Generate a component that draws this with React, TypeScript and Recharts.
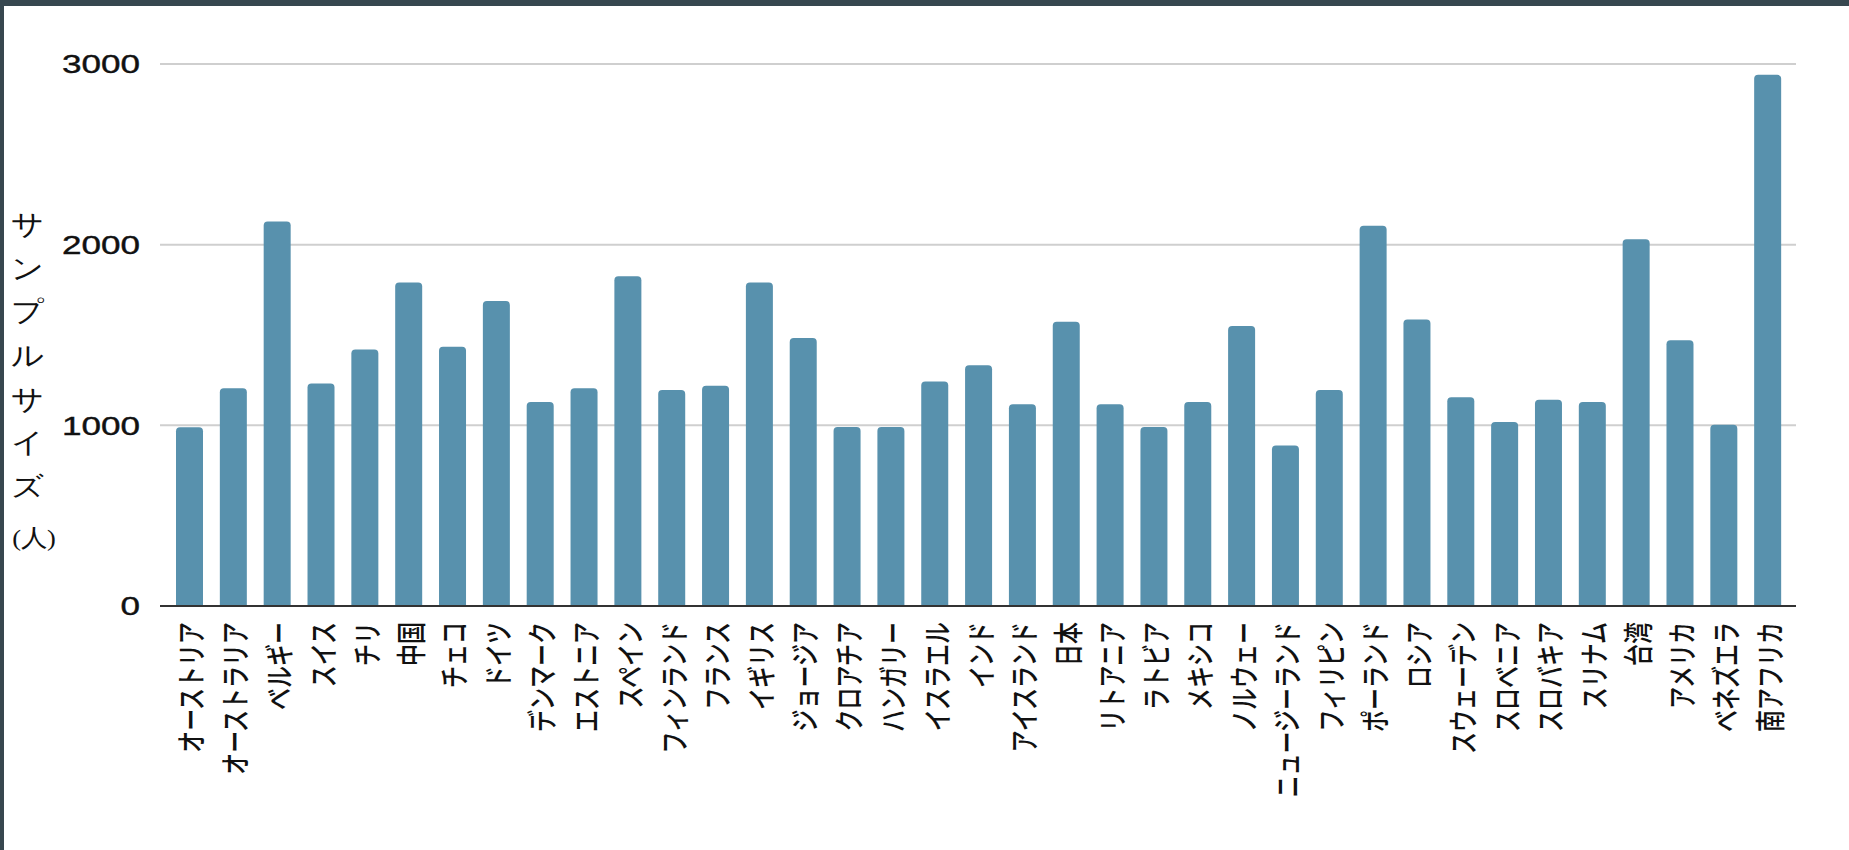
import { BarChart, Bar, XAxis, YAxis, CartesianGrid } from 'recharts';

// 国・地域ごとのサンプルサイズ（人）
const countries = [
    'オーストリア', 'オーストラリア', 'ベルギー', 'スイス', 'チリ', '中国', 'チェコ', 'ドイツ',
    'デンマーク', 'エストニア', 'スペイン', 'フィンランド', 'フランス', 'イギリス', 'ジョージア',
    'クロアチア', 'ハンガリー', 'イスラエル', 'インド', 'アイスランド', '日本', 'リトアニア',
    'ラトビア', 'メキシコ', 'ノルウェー', 'ニュージーランド', 'フィリピン', 'ポーランド', 'ロシア',
    'スウェーデン', 'スロベニア', 'スロバキア', 'スリナム', '台湾', 'アメリカ', 'ベネズエラ', '南アフリカ',
];

const sampleSizes = [
    990, 1205, 2128, 1231, 1420, 1790, 1435, 1688,
    1129, 1205, 1825, 1195, 1219, 1790, 1483,
    991, 991, 1243, 1333, 1117, 1574, 1117,
    991, 1129, 1550, 889, 1195, 2105, 1586,
    1156, 1018, 1141, 1129, 2030, 1471, 1003, 2940,
];

const yTicks = [0, 1000, 2000, 3000];

const titleChars = ['サ', 'ン', 'プ', 'ル', 'サ', 'イ', 'ズ'];
const titleUnit = '(人)';

const BAR_COLOR = '#5891ad';
const STRETCH = 1.35;

const data = countries.map((name, i) => ({ name, value: sampleSizes[i] }));

function YTick({ x, y, payload }: any) {
    return (
        <text
            transform={`translate(${x},${y}) scale(${STRETCH},1)`}
            textAnchor="end"
            dy="0.36em"
            fontSize={26}
            fontFamily="'Liberation Sans', Arial, sans-serif"
            stroke="#111"
            strokeWidth={0.4}
            fill="#111"
        >
            {payload.value}
        </text>
    );
}

function XTick({ x, y, payload }: any) {
    return (
        <text
            transform={`translate(${x},${y}) scale(${STRETCH},1) rotate(-90)`}
            textAnchor="end"
            dominantBaseline="central"
            fontSize={22}
            fontWeight={500}
            fontFamily="'Noto Sans CJK JP', sans-serif"
            fill="#111"
        >
            {payload.value}
        </text>
    );
}

// 縦書きの軸タイトル
function YTitle({ viewBox }: any) {
    const cx = viewBox.x + 28;
    const top = viewBox.y + 161;
    return (
        <g fontFamily="serif" fill="#111">
            {titleChars.map((ch, i) => (
                <text
                    key={i}
                    transform={`translate(${cx},${top + i * 43.6}) scale(1.15,1)`}
                    textAnchor="middle"
                    dominantBaseline="central"
                    fontSize={28}
                >
                    {ch}
                </text>
            ))}
            <text
                transform={`translate(${cx + 6},${top + 313}) scale(1.1,1)`}
                textAnchor="middle"
                dominantBaseline="central"
                fontSize={24}
            >
                {titleUnit}
            </text>
        </g>
    );
}

export default function App() {
    return (
        <div style={{ position: 'absolute', left: 0, top: 0, width: 1849, height: 850, background: '#37474f' }}>
            <div style={{ position: 'absolute', left: 4, top: 6, right: 0, bottom: 0, background: '#ffffff' }} />
            <div style={{ position: 'absolute', left: 0, top: 0 }}>
                <BarChart
                    width={1849}
                    height={850}
                    data={data}
                    margin={{ top: 64, right: 53, bottom: 44, left: 0 }}
                >
                    <CartesianGrid vertical={false} stroke="#cfcfcf" strokeWidth={2} />
                    <XAxis
                        dataKey="name"
                        interval={0}
                        height={200}
                        padding={{ left: 8, right: 6 }}
                        tickLine={false}
                        tickMargin={10}
                        axisLine={{ stroke: '#333', strokeWidth: 2 }}
                        tick={<XTick />}
                    />
                    <YAxis
                        width={160}
                        domain={[0, 3000]}
                        ticks={yTicks}
                        axisLine={false}
                        tickLine={false}
                        tickMargin={14}
                        tick={<YTick />}
                        label={<YTitle />}
                    />
                    <Bar dataKey="value" fill={BAR_COLOR} barSize={27} radius={[4, 4, 0, 0]} isAnimationActive={false} />
                </BarChart>
            </div>
        </div>
    );
}
